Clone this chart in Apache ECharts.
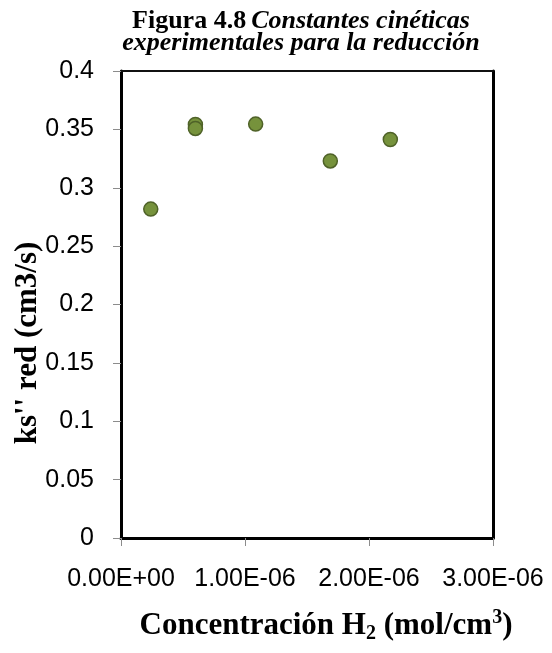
<!DOCTYPE html>
<html>
<head>
<meta charset="utf-8">
<script src="https://cdn.jsdelivr.net/npm/echarts@6/dist/echarts.min.js"></script>
<style>
  html, body { margin: 0; padding: 0; background: #fff; }
  #chart { width: 552px; height: 653px; }
</style>
</head>
<body>
<div id="chart"></div>
<script>
// H2 concentration (mol/cm3) and measured rate constants ks'' (cm3/s)
const concentrationH2 = [2.4e-7, 6.0e-7, 6.0e-7, 1.086e-6, 1.688e-6, 2.172e-6];
const ksRed = [0.2817, 0.3542, 0.3508, 0.3545, 0.3230, 0.3413];

// Excel-style scientific label, e.g. 1.00E-06
function sci(v) {
  if (v === 0) return '0.00E+00';
  const [m, e] = v.toExponential(2).split('e');
  const n = parseInt(e, 10);
  const sign = n < 0 ? '-' : '+';
  return m + 'E' + sign + String(Math.abs(n)).padStart(2, '0');
}

const points = concentrationH2.map((x, i) => [x, ksRed[i]]);

const serif = '"Liberation Serif", "Times New Roman", serif';
const sans = '"Liberation Sans", Arial, sans-serif';
const tickStyle = { show: true, length: 8, lineStyle: { color: '#8c8c8c', width: 1 } };

const chart = echarts.init(document.getElementById('chart'), null, { renderer: 'canvas' });
chart.setOption({
  backgroundColor: '#ffffff',
  animation: false,
  title: {
    left: 296,
    textAlign: 'center',
    top: 5,
    text: '{b|Figura 4.8} {i|Constantes cinéticas}\n{i|experimentales para la reducción}',
    textStyle: {
      rich: {
        b: { fontFamily: serif, fontWeight: 'bold', fontSize: 26, color: '#000', lineHeight: 22 },
        i: { fontFamily: serif, fontStyle: 'italic', fontSize: 26, color: '#000', lineHeight: 22 }
      }
    }
  },
  graphic: [{
    // y-axis title
    type: 'text',
    x: 28, y: 343,
    rotation: Math.PI / 2,
    style: {
      text: "ks'' red (cm3/s)",
      font: 'bold 31px ' + serif,
      fill: '#000',
      align: 'center',
      verticalAlign: 'middle'
    }
  }, {
    // x-axis title
    type: 'text',
    x: 326, y: 626,
    style: {
      text: '{t|Concentración H}{s|2}{t| (mol/cm}{p|3}{t|)}',
      align: 'center',
      verticalAlign: 'middle',
      rich: {
        t: { fontFamily: serif, fontWeight: 'bold', fontSize: 31, fill: '#000' },
        s: { fontFamily: serif, fontWeight: 'bold', fontSize: 20, fill: '#000', verticalAlign: 'bottom', padding: [16, 0, 0, 0] },
        p: { fontFamily: serif, fontWeight: 'bold', fontSize: 20, fill: '#000', verticalAlign: 'top', padding: [0, 0, 10, 0] }
      }
    }
  }],
  grid: { left: 121, right: 59, top: 71, bottom: 115 },
  xAxis: [{
    type: 'value',
    min: 0, max: 3e-6, interval: 1e-6,
    splitLine: { show: false },
    axisLine: { show: true, onZero: false, lineStyle: { color: '#000', width: 3 } },
    axisTick: tickStyle,
    axisLabel: {
      margin: 29, fontFamily: sans, fontSize: 25, color: '#000',
      formatter: v => sci(v)
    }
  }, {
    type: 'value', position: 'top',
    min: 0, max: 3e-6,
    splitLine: { show: false },
    axisLine: { show: true, onZero: false, lineStyle: { color: '#111', width: 2 } },
    axisTick: { show: false }, axisLabel: { show: false }
  }],
  yAxis: [{
    type: 'value',
    min: 0, max: 0.4, interval: 0.05,
    splitLine: { show: false },
    axisLine: { show: true, onZero: false, lineStyle: { color: '#000', width: 3 } },
    axisTick: tickStyle,
    axisLabel: {
      margin: 27, fontFamily: sans, fontSize: 25, color: '#000',
      formatter: v => String(parseFloat(v.toFixed(2)))
    }
  }, {
    type: 'value', position: 'right',
    min: 0, max: 0.4,
    splitLine: { show: false },
    axisLine: { show: true, onZero: false, lineStyle: { color: '#000', width: 3 } },
    axisTick: { show: false }, axisLabel: { show: false }
  }],
  series: [{
    type: 'scatter',
    xAxisIndex: 0, yAxisIndex: 0,
    data: points,
    symbol: 'circle',
    symbolSize: 14,
    itemStyle: { color: '#76923C', borderColor: '#4F6228', borderWidth: 1.5, opacity: 1 }
  }]
});
</script>
</body>
</html>
